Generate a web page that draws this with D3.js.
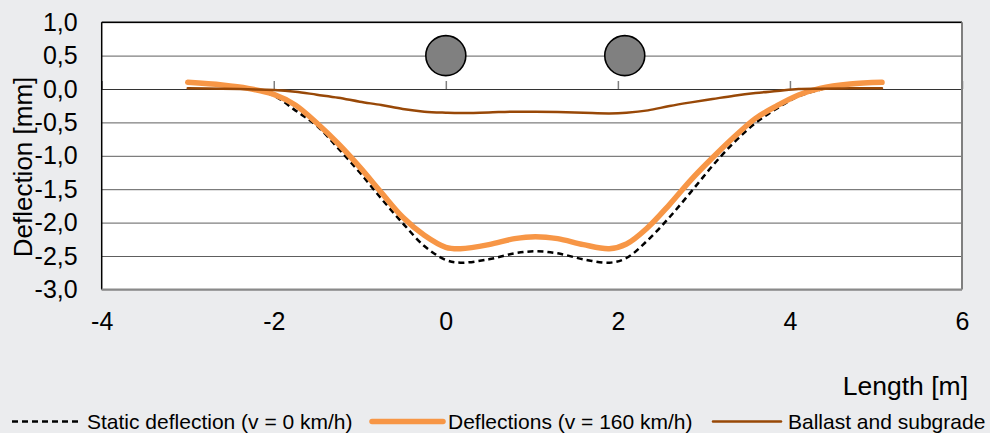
<!DOCTYPE html>
<html>
<head>
<meta charset="utf-8">
<script src="https://cdn.jsdelivr.net/npm/d3@7"></script>
<style>
  html, body { margin: 0; padding: 0; background: #ebecee; }
  svg { display: block; font-family: "Liberation Sans", Arial, sans-serif; }
</style>
</head>
<body>
<div id="chart"></div>
<script>
// distance along track [m]
const lengths = [-3, -2.6, -2.3, -2, -1.75, -1.5, -1.25, -1, -0.75, -0.5, -0.25, 0, 0.17, 0.5, 0.8, 1.04,
  1.3, 1.6, 1.9, 2.1, 2.35, 2.6, 2.85, 3.1, 3.35, 3.6, 3.85, 4.1, 4.35, 4.7, 5.07];

// deflections [mm]
const staticDefl = [0.10, 0.06, 0.0, -0.10, -0.32, -0.55, -0.89, -1.25, -1.64, -2.01, -2.35, -2.56, -2.60, -2.55, -2.46, -2.43,
  -2.46, -2.55, -2.60, -2.53, -2.26, -1.92, -1.54, -1.15, -0.80, -0.51, -0.29, -0.11, -0.01, 0.07, 0.10];
const dynamicDefl = [0.10, 0.06, 0.01, -0.08, -0.24, -0.51, -0.82, -1.17, -1.55, -1.92, -2.19, -2.37, -2.39, -2.33, -2.24, -2.21,
  -2.24, -2.33, -2.39, -2.32, -2.07, -1.73, -1.36, -1.03, -0.72, -0.44, -0.25, -0.09, 0.01, 0.075, 0.10];
const ballastDefl = [0.01, 0.005, -0.005, -0.015, -0.04, -0.085, -0.13, -0.19, -0.24, -0.30, -0.34, -0.355, -0.36, -0.35, -0.34, -0.34,
  -0.345, -0.355, -0.365, -0.355, -0.32, -0.255, -0.20, -0.15, -0.10, -0.06, -0.03, 0.0, 0.005, 0.01, 0.01];

// wheel positions, drawn at y = 0.5
const axles = [0, 2.08];
const axleLevel = 0.5;

const xTicks = [-4, -2, 0, 2, 4, 6];
const yTicks = [1, 0.5, 0, -0.5, -1, -1.5, -2, -2.5, -3];

const series = [
  { name: "Static deflection (v = 0 km/h)", values: staticDefl, color: "#000000", width: 2.5, dash: "6,4" },
  { name: "Deflections (v = 160 km/h)", values: dynamicDefl, color: "#f79646", width: 5.5, dash: null },
  { name: "Ballast and subgrade", values: ballastDefl, color: "#984807", width: 2.5, dash: null },
];

const W = 990, H = 433;
const margin = { top: 22.2, right: 28, bottom: 143.6, left: 101.7 };
const width = W - margin.left - margin.right;
const height = H - margin.top - margin.bottom;

const locale = d3.formatLocale({ decimal: ",", thousands: ".", grouping: [3], currency: ["", ""], minus: "-" });
const fmt1 = locale.format(".1f");
const fmt0 = locale.format("d");

const svg = d3.select("#chart").append("svg")
  .attr("width", W).attr("height", H);

const g = svg.append("g").attr("transform", `translate(${margin.left},${margin.top})`);

const x = d3.scaleLinear().domain([-4, 6]).range([0, width]);
const y = d3.scaleLinear().domain([-3, 1]).range([height, 0]);

// plot background
g.append("rect").attr("width", width).attr("height", height).attr("fill", "#ffffff");

// gridlines
const grid = g.append("g")
  .call(d3.axisLeft(y).tickValues(yTicks).tickSize(-width).tickFormat(""));
grid.select(".domain").remove();
grid.selectAll("line").attr("stroke", "#5e5e5e").attr("stroke-width", 1);

// y labels
const yAxis = g.append("g")
  .call(d3.axisLeft(y).tickValues(yTicks).tickSize(0).tickPadding(24).tickFormat(fmt1));
yAxis.select(".domain").remove();
yAxis.selectAll("text").attr("font-size", 25).attr("fill", "#000").attr("font-family", "Liberation Sans, Arial, sans-serif");

// x labels at the bottom
const xAxis = g.append("g").attr("transform", `translate(0,${height})`)
  .call(d3.axisBottom(x).tickValues(xTicks).tickSize(0).tickPadding(23).tickFormat(fmt0));
xAxis.select(".domain").remove();
xAxis.selectAll("text").attr("font-size", 25).attr("fill", "#000").attr("font-family", "Liberation Sans, Arial, sans-serif");

// horizontal axis line at zero with small upward ticks
const zeroAxis = g.append("g").attr("transform", `translate(0,${y(0)})`)
  .call(d3.axisTop(x).tickValues(xTicks).tickSize(8).tickSizeOuter(0).tickFormat(""));
zeroAxis.select(".domain").attr("stroke", "#333").attr("stroke-width", 1.2);
zeroAxis.selectAll(".tick line").attr("stroke", "#7f7f7f").attr("stroke-width", 1.5);

// frame
g.append("line").attr("x1", 0).attr("x2", width).attr("y1", 0).attr("y2", 0).attr("stroke", "#000").attr("stroke-width", 1.5);
g.append("line").attr("x1", 0).attr("x2", 0).attr("y1", 0).attr("y2", height).attr("stroke", "#000").attr("stroke-width", 1.5);
g.append("line").attr("x1", width).attr("x2", width).attr("y1", 0).attr("y2", height).attr("stroke", "#7f7f7f").attr("stroke-width", 2);
g.append("line").attr("x1", 0).attr("x2", width).attr("y1", height).attr("y2", height).attr("stroke", "#8a8a8a").attr("stroke-width", 2);

// wheels
g.selectAll("circle.axle").data(axles).join("circle")
  .attr("class", "axle")
  .attr("cx", d => x(d)).attr("cy", y(axleLevel)).attr("r", 20)
  .attr("fill", "#808080").attr("stroke", "#000").attr("stroke-width", 1.6);

// lines
const line = d3.line()
  .x((d, i) => x(lengths[i]))
  .y(d => y(d))
  .curve(d3.curveCatmullRom.alpha(0.5));

g.selectAll("path.series").data(series).join("path")
  .attr("class", "series")
  .attr("d", d => line(d.values))
  .attr("fill", "none")
  .attr("stroke", d => d.color)
  .attr("stroke-width", d => d.width)
  .attr("stroke-dasharray", d => d.dash)
  .attr("stroke-linecap", d => d.dash ? "butt" : "round")
  .attr("stroke-linejoin", "round");

// axis titles
svg.append("text")
  .attr("transform", `translate(32,167) rotate(-90)`)
  .attr("text-anchor", "middle")
  .attr("font-size", 26)
  .text("Deflection [mm]");

svg.append("text")
  .attr("x", 968).attr("y", 395)
  .attr("text-anchor", "end")
  .attr("font-size", 26.5)
  .text("Length [m]");

// legend
const legendItems = [
  { x1: 12, x2: 80, tx: 87 },
  { x1: 372, x2: 443, tx: 448 },
  { x1: 713, x2: 781, tx: 788 },
];
const leg = svg.append("g").attr("transform", "translate(0,421.5)");
const li = leg.selectAll("g").data(series).join("g");
li.append("line")
  .attr("x1", (d, i) => legendItems[i].x1).attr("x2", (d, i) => legendItems[i].x2)
  .attr("stroke", d => d.color)
  .attr("stroke-width", d => d.width)
  .attr("stroke-dasharray", d => d.dash)
  .attr("stroke-linecap", d => d.dash ? "butt" : "round");
li.append("text")
  .attr("x", (d, i) => legendItems[i].tx)
  .attr("dy", "0.35em")
  .attr("font-size", 21)
  .text(d => d.name);
</script>
</body>
</html>
